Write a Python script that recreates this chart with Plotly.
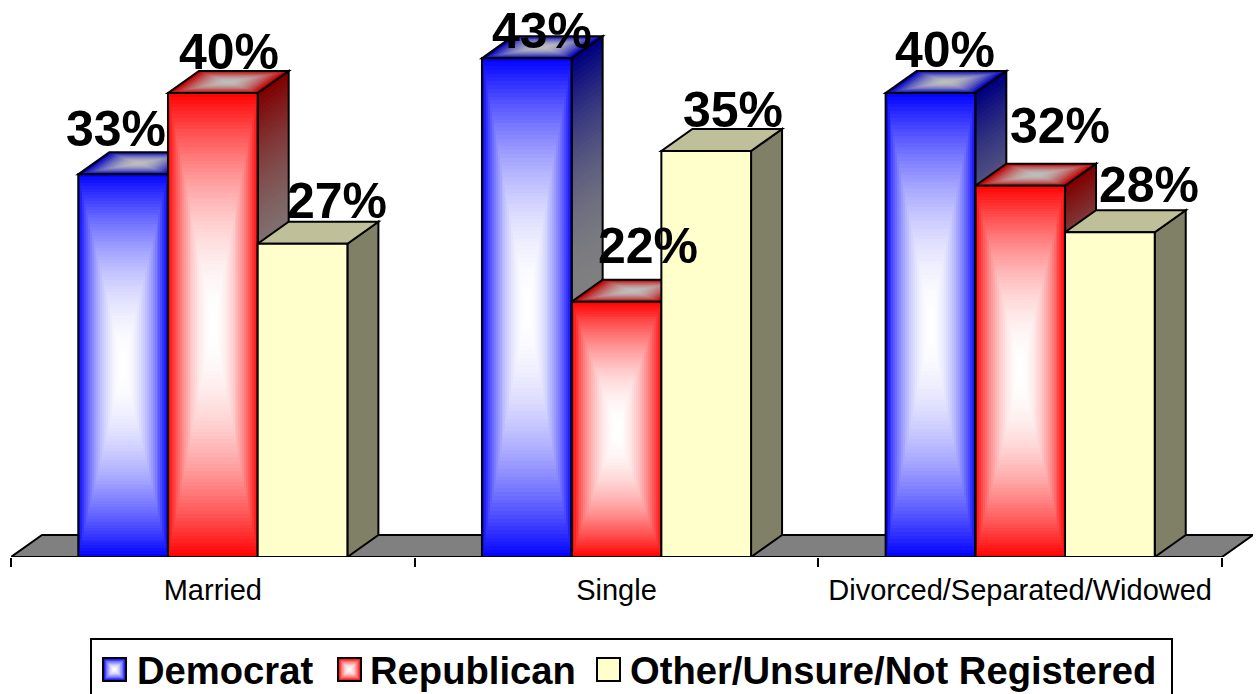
import numpy as np
import plotly.graph_objects as go

categories = ["Married", "Single", "Divorced/Separated/Widowed"]
series_names = ["Democrat", "Republican", "Other/Unsure/Not Registered"]
democrat = [33, 43, 40]
republican = [40, 22, 32]
other = [27, 35, 28]
values = [democrat, republican, other]

front_rgb = [(0, 0, 255), (255, 0, 0), (255, 255, 204)]
FONT = "Liberation Sans"
W, H = 1256, 694
L, T, PW, PH = 11, 0, 1242, 557
PX_CAT = 403.67
PX_PCT = 11.6
BAR_W = 2 / 9
DX = 31 / PX_CAT
DY = 22 / PX_PCT
X_RANGE = [-0.5, -0.5 + PW / PX_CAT]
Y_RANGE = [0, PH / PX_PCT]

# label nudges in px (dx, dy up)
label_dx = [[-7, 16, 34], [15, 31, 27], [15, 40, 39]]
label_dy = [[45, 41, 43], [27, 56, 41], [43, 60, 47]]


def mix(c, t, k=1.0):
    """white->c at t (eased), then darkened by k"""
    e = t ** 2
    return "rgb(%d,%d,%d)" % tuple(round((255 + (ch - 255) * e) * k) for ch in c)


def path(points):
    return "M" + " L".join(f"{x:.5f},{y:.5f}" for x, y in points) + " Z"


shapes = []


def poly(points, fill, line=None, width=0):
    shapes.append(dict(type="path", path=path(points), xref="x", yref="y", layer="below",
                       fillcolor=fill, line=dict(color=line or "rgba(0,0,0,0)", width=width)))


# floor
poly([(X_RANGE[0], 0), (2.5, 0), (2.5 + DX, DY), (X_RANGE[0] + DX, DY)], "#808080", "#000000", 2)

fig = go.Figure()

# side and top faces, painted left to right
for g in range(len(categories)):
    for s in range(3):
        v = values[s][g]
        x0 = g + (s - 1.5) * BAR_W
        x1 = x0 + BAR_W
        rgb = front_rgb[s]
        # side
        side = [(x1, 0), (x1 + DX, DY), (x1 + DX, v + DY), (x1, v)]
        if s == 2:
            poly(side, mix(rgb, 1, 0.5))
        else:
            n = 48
            for i in range(n + 1):
                t = 1 - i / n
                mid = v / 2
                a, b = mid - t * mid, mid + t * mid
                poly([(x1, a), (x1 + DX, a + DY), (x1 + DX, b + DY), (x1, b)], mix(rgb, t, 0.5))
        poly(side, "rgba(0,0,0,0)", "#000000", 2)
        # top
        top = [(x0, v), (x1, v), (x1 + DX, v + DY), (x0 + DX, v + DY)]
        if s == 2:
            poly(top, mix(rgb, 1, 0.75))
        else:
            n = 12
            for i in range(n + 1):
                t = 1 - i / n
                pts = []
                for (u, w) in [(-t, -t), (t, -t), (t, t), (-t, t)]:
                    fy = (w + 1) / 2
                    fx = (u + 1) / 2
                    pts.append((x0 + fx * BAR_W + fy * DX, v + fy * DY))
                poly(pts, mix(rgb, t, 0.75))
        poly(top, "rgba(0,0,0,0)", "#000000", 2)

# gradient fill of the front faces
for s in (0, 1):
    for g in range(len(categories)):
        v = values[s][g]
        x0 = g + (s - 1.5) * BAR_W
        xs = x0 + BAR_W * (np.arange(46) + 0.5) / 46
        ys = v * (np.arange(130) + 0.5) / 130
        u = np.abs((xs - x0) / BAR_W * 2 - 1)
        w = np.abs(ys / v * 2 - 1)
        z = np.maximum.outer(w, u) ** 2
        fig.add_trace(go.Heatmap(x=xs, y=ys, z=z, zmin=0, zmax=1, showscale=False, hoverinfo="skip",
                                 colorscale=[[0, "#FFFFFF"], [1, mix(front_rgb[s], 1)]]))

# the bars themselves
for s, name in enumerate(series_names):
    fill = "#FFFFCC" if s == 2 else "rgba(0,0,0,0)"
    fig.add_trace(go.Bar(x=list(range(3)), y=values[s], name=name, showlegend=False,
                         marker=dict(color=fill, line=dict(color="#000000", width=2))))

# value labels
annotations = []
for s in range(3):
    for g in range(3):
        annotations.append(dict(x=g + (s - 1) * BAR_W, y=values[s][g], xref="x", yref="y",
                                text=f"{values[s][g]}%", showarrow=False,
                                xanchor="center", yanchor="middle",
                                xshift=label_dx[g][s], yshift=label_dy[g][s],
                                font=dict(family=FONT, size=50, color="#000000", weight=700)))


def px(x):
    return (x - L) / PW


def py(y):
    return (T + PH - y) / PH


# legend
shapes.append(dict(type="rect", xref="paper", yref="paper", layer="above",
                   x0=px(91), x1=px(1172), y0=py(639), y1=py(700),
                   fillcolor="#FFFFFF", line=dict(color="#000000", width=2)))
legend_swatch_x = [103, 338, 597]
legend_text_x = [137, 370, 630]
SW = 23
SWY = 658
for s, name in enumerate(series_names):
    sx = legend_swatch_x[s]
    n = 1 if s == 2 else 8
    for i in range(n):
        t = 1 - i / n
        ins = (1 - t) * SW / 2
        col = mix(front_rgb[s], 1) if s == 2 else mix(front_rgb[s], t)
        shapes.append(dict(type="rect", xref="paper", yref="paper", layer="above",
                           x0=px(sx + ins), x1=px(sx + SW - ins), y0=py(SWY + ins), y1=py(SWY + SW - ins),
                           fillcolor=col, line=dict(width=0)))
    shapes.append(dict(type="rect", xref="paper", yref="paper", layer="above",
                       x0=px(sx), x1=px(sx + SW), y0=py(SWY), y1=py(SWY + SW),
                       fillcolor="rgba(0,0,0,0)", line=dict(color="#000000", width=2)))
    annotations.append(dict(x=px(legend_text_x[s]), y=py(670), xref="paper", yref="paper",
                            text=name, showarrow=False, xanchor="left", yanchor="middle",
                            xshift=-2, font=dict(family=FONT, size=38.2, color="#000000", weight=700)))

fig.update_layout(
    width=W, height=H, margin=dict(l=L, r=W - L - PW, t=T, b=H - T - PH, pad=0),
    paper_bgcolor="#FFFFFF", plot_bgcolor="rgba(0,0,0,0)",
    barmode="group", bargap=1 / 3, bargroupgap=0, showlegend=False,
    shapes=shapes, annotations=annotations,
    xaxis=dict(range=X_RANGE, tickmode="array", tickvals=[0, 1, 2], ticktext=categories, ticks="",
               showgrid=False, zeroline=False, showline=False, ticklabelstandoff=13,
               tickfont=dict(family=FONT, size=29, color="#000000"),
               minor=dict(tickmode="array", tickvals=[-0.5, 0.5, 1.5, 2.5], ticks="outside",
                          ticklen=9, tickwidth=1.5, tickcolor="#000000", showgrid=False)),
    yaxis=dict(range=Y_RANGE, visible=False, showgrid=False, zeroline=False),
)

fig.write_html("out.html", config=dict(displayModeBar=False),
               post_script="document.body.style.margin='0';document.documentElement.style.overflow='hidden';")
